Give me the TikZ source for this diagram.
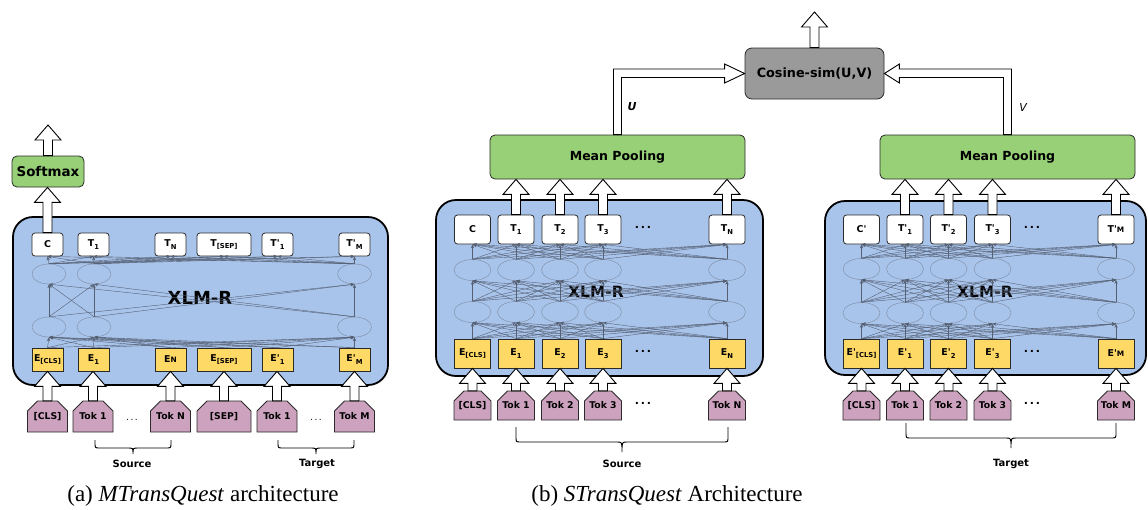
\documentclass[tikz,border=0pt]{standalone}
\usepackage{fontspec}
\setmainfont{DejaVu Sans}[Ligatures=TeXOff]
\newfontfamily\capfont{Liberation Serif}
\usetikzlibrary{shapes.geometric,arrows.meta,calc}

\definecolor{xblue}{HTML}{A9C4EB}
\definecolor{eyel}{HTML}{FFD966}
\definecolor{gfill}{HTML}{97D077}
\definecolor{tokc}{HTML}{CDA2BE}
\definecolor{cosg}{HTML}{9A9A9A}
\definecolor{bdr}{HTML}{2A2A2A}
\definecolor{ngray}{HTML}{556073}
\definecolor{ellc}{HTML}{7F8EA6}

\newcommand\bxf{\fontsize{9.4}{10}\selectfont\bfseries}
\newcommand\sbs[1]{\raisebox{-0.45ex}{\fontsize{6.8}{7}\selectfont #1}}
\newcommand\sml[1]{{\fontsize{7.4}{7.5}\selectfont #1}}

\tikzset{
  bigbox/.style={draw=black, line width=1.8pt, fill=xblue, rounded corners=20pt, inner sep=0pt},
  tbox/.style={draw=bdr, line width=0.8pt, fill=white, rounded corners=3pt, inner sep=0pt, font=\bxf},
  ebox/.style={draw=bdr, line width=0.8pt, fill=eyel, inner sep=0pt, font=\bxf},
  ell/.style={ellipse, draw=ellc, line width=0.45pt, inner sep=0pt},
  net/.style={draw=ngray, line width=0.4pt, -{Stealth[length=4pt,width=3.2pt]}},
  barrow/.style={draw=black, fill=white, line width=0.9pt, line join=miter},
  tokstyle/.style={draw=bdr, line width=0.8pt, fill=tokc},
  toktext/.style={inner sep=0pt, font=\fontsize{9.3}{10}\selectfont\bfseries},
  gbox/.style={draw=bdr, line width=0.8pt, fill=gfill, rounded corners=5pt, inner sep=0pt},
  xlab/.style={font=\bfseries},
  braceline/.style={draw=black, line width=0.9pt},
  brlab/.style={font=\fontsize{10}{12}\selectfont\bfseries},
  dots/.style={font=\fontsize{11}{12}\selectfont\bfseries},
  caption/.style={font=\capfont\fontsize{23}{26}\selectfont}
}

% token: name, x, width, ytop, ybot, text
\newcommand\tokn[6]{%
  \filldraw[tokstyle] (#2-#3/2,#5) -- (#2-#3/2,#4+10) -- (#2-#3/2+10,#4) -- (#2+#3/2-10,#4) -- (#2+#3/2,#4+10) -- (#2+#3/2,#5) -- cycle;
  \node[toktext, minimum width=#3pt, minimum height={(#5-#4)*1pt}] (#1) at (#2,{(#4+#5)/2}) {#6};}

% vertical block arrow from anchor #1 up to anchor #2 (x of #1, tip y of #2)
\newcommand\barr[2]{%
  \draw[barrow] let \p1=(#1), \p2=(#2) in
    (\x1-4.5pt,\y1) -- (\x1-4.5pt,\y2-15pt) -- (\x1-13pt,\y2-15pt) -- (\x1,\y2)
    -- (\x1+13pt,\y2-15pt) -- (\x1+4.5pt,\y2-15pt) -- (\x1+4.5pt,\y1) -- cycle;}

% brace: x1, x2, ytop, yh, ytip
\newcommand\brc[5]{%
  \draw[braceline] (#1,#3) -- (#1,#4-5) .. controls (#1,#4) .. (#1+5,#4)
   -- ({(#1+#2)/2-5},#4) .. controls ({(#1+#2)/2},#4) .. ({(#1+#2)/2},#5)
   .. controls ({(#1+#2)/2},#4) .. ({(#1+#2)/2+5},#4)
   -- (#2-5,#4) .. controls (#2,#4) .. (#2,#4-5) -- (#2,#3);}

\begin{document}
\begin{tikzpicture}[x=1pt,y=-1pt]
\useasboundingbox (0,0) rectangle (1148,509);

% ================= (a) MTransQuest =================
\node[bigbox, minimum width=375pt, minimum height=168pt] (xa) at (200.5,301) {};
\node[xlab, font=\fontsize{18}{20}\selectfont\bfseries] (xalab) at (200,298) {XLM-R};

\node[tbox, minimum width=31pt, minimum height=23pt] (at1) at (47.5,244.5) {C};
\node[tbox, minimum width=31pt, minimum height=23pt] (at2) at (93.5,244.5) {T\sbs{1}};
\node[tbox, minimum width=31pt, minimum height=23pt] (at3) at (170.5,244.5) {T\sbs{N}};
\node[tbox, minimum width=54pt, minimum height=23pt] (at4) at (224,244.5) {T\sbs{[SEP]}};
\node[tbox, minimum width=31pt, minimum height=23pt] (at5) at (277.5,244.5) {T'\sbs{1}};
\node[tbox, minimum width=31pt, minimum height=23pt] (at6) at (354.5,244.5) {T'\sbs{M}};

\node[ebox, minimum width=31pt, minimum height=23pt] (ae1) at (47.5,359.5) {E\sbs{[CLS]}};
\node[ebox, minimum width=31pt, minimum height=23pt] (ae2) at (93.5,359.5) {E\sbs{1}};
\node[ebox, minimum width=31pt, minimum height=23pt] (ae3) at (170.5,359.5) {E\sml{N}};
\node[ebox, minimum width=54pt, minimum height=23pt] (ae4) at (224,359.5) {E\sbs{[SEP]}};
\node[ebox, minimum width=31pt, minimum height=23pt] (ae5) at (277.5,359.5) {E'\sbs{1}};
\node[ebox, minimum width=31pt, minimum height=23pt] (ae6) at (354.5,359.5) {E'\sbs{M}};

\foreach \i/\x in {1/49,2/94,3/354.5}{
  \node[ell, minimum width=34pt, minimum height=20pt] (aa\i) at (\x,274) {};
  \node[ell, minimum width=34pt, minimum height=20pt] (ab\i) at (\x,327) {};
}
\foreach \i in {1,...,6}{\foreach \j in {1,2,3}{\draw[net] (ae\i.north) -- (ab\j.south);}}
\foreach \i in {1,2,3}{\foreach \j in {1,2,3}{\draw[net] (ab\i.north) -- (aa\j.south);}}
\foreach \i in {1,2,3}{\foreach \j in {1,...,6}{\draw[net] (aa\i.north) -- (at\j.south);}}

\node[gbox, minimum width=72pt, minimum height=31pt, font=\fontsize{13.4}{15}\selectfont\bfseries] (soft) at (48,171.5) {Softmax};
\coordinate (softout) at (48,125);
\barr{at1.north}{soft.south}
\barr{soft.north}{softout}

\tokn{ak1}{47.5}{40}{401}{432}{[CLS]}
\tokn{ak2}{93}{40}{401}{432}{Tok 1}
\tokn{ak3}{170.5}{40}{401}{432}{Tok N}
\tokn{ak4}{224}{54}{401}{432}{[SEP]}
\tokn{ak5}{277}{40}{401}{432}{Tok 1}
\tokn{ak6}{354.5}{40}{401}{432}{Tok M}
\foreach \i in {1,...,6}{\barr{ak\i.north}{ae\i.south}}
\node[dots, font=\fontsize{9}{10}\selectfont] (adot1) at (132,420) {.\,.\,.};
\node[dots, font=\fontsize{9}{10}\selectfont] (adot2) at (316,420) {.\,.\,.};

\brc{95}{171}{440}{448}{454}
\node[brlab] (asrc) at (132,464) {Source};
\brc{278}{354}{440}{448}{454}
\node[brlab] (atgt) at (317,464) {Target};

\node[caption] (capa) at (203,496) {(a) \textit{MTransQuest} architecture};

% ================= (b) STransQuest, source side =================
\node[bigbox, minimum width=327pt, minimum height=176pt] (xb) at (599.5,288) {};
\node[xlab, font=\fontsize{15.5}{17}\selectfont\bfseries] (xblab) at (596,292) {XLM-R};

\foreach \i/\x/\t/\e in {1/472.5/C/E\sbs{[CLS]}, 2/516/T\sbs{1}/E\sbs{1}, 3/560/T\sbs{2}/E\sbs{2}, 4/603/T\sbs{3}/E\sbs{3}, 5/727/T\sbs{N}/E\sbs{N}}{
  \node[tbox, minimum width=36pt, minimum height=29pt] (bt\i) at (\x,229.5) {\t};
  \node[ebox, minimum width=36pt, minimum height=29pt] (be\i) at (\x,353.5) {\e};
  \node[ell, minimum width=37pt, minimum height=21pt] (ba\i) at (\x,270) {};
  \node[ell, minimum width=37pt, minimum height=21pt] (bb\i) at (\x,312) {};
}
\foreach \i in {1,...,5}{\foreach \j in {1,...,5}{
  \draw[net] (be\i.north) -- (bb\j.south);
  \draw[net] (bb\i.north) -- (ba\j.south);
  \draw[net] (ba\i.north) -- (bt\j.south);}}
\node[dots] (bdot1) at (643,227) {.\,.\,.};
\node[dots] (bdot2) at (643,351) {.\,.\,.};
\node[dots] (bdot3) at (643,403) {.\,.\,.};

\node[gbox, minimum width=255pt, minimum height=44pt, font=\fontsize{12.5}{14}\selectfont\bfseries] (mpl) at (617.5,157) {Mean Pooling};
\foreach \i in {2,3,4,5}{\barr{bt\i.north}{mpl.south}}

\tokn{bk1}{472.5}{37}{391}{420}{[CLS]}
\tokn{bk2}{516}{37}{391}{420}{Tok 1}
\tokn{bk3}{560}{37}{391}{420}{Tok 2}
\tokn{bk4}{603}{37}{391}{420}{Tok 3}
\tokn{bk5}{727}{37}{391}{420}{Tok N}
\foreach \i in {1,...,5}{\barr{bk\i.north}{be\i.south}}

\brc{516}{728}{427}{442}{452}
\node[brlab] (bsrc) at (622,464) {Source};

% ================= (b) target side =================
\node[bigbox, minimum width=321pt, minimum height=174pt] (xc) at (985.5,288) {};
\node[xlab, font=\fontsize{15.5}{17}\selectfont\bfseries] (xclab) at (985,292) {XLM-R};

\foreach \i/\x/\t/\e in {1/861.5/C'/E'\sbs{[CLS]}, 2/905/T'\sbs{1}/E'\sbs{1}, 3/948.5/T'\sbs{2}/E'\sbs{2}, 4/992.5/T'\sbs{3}/E'\sbs{3}, 5/1116/T'\sml{M}/E'\sml{M}}{
  \node[tbox, minimum width=36pt, minimum height=29pt] (ct\i) at (\x,229.5) {\t};
  \node[ebox, minimum width=36pt, minimum height=29pt] (ce\i) at (\x,353.5) {\e};
  \node[ell, minimum width=37pt, minimum height=21pt] (ca\i) at (\x,269) {};
  \node[ell, minimum width=37pt, minimum height=21pt] (cb\i) at (\x,313) {};
}
\foreach \i in {1,...,5}{\foreach \j in {1,...,5}{
  \draw[net] (ce\i.north) -- (cb\j.south);
  \draw[net] (cb\i.north) -- (ca\j.south);
  \draw[net] (ca\i.north) -- (ct\j.south);}}
\node[dots] (cdot1) at (1032,227) {.\,.\,.};
\node[dots] (cdot2) at (1032,351) {.\,.\,.};
\node[dots] (cdot3) at (1032,403) {.\,.\,.};

\node[gbox, minimum width=255pt, minimum height=44pt, font=\fontsize{12.5}{14}\selectfont\bfseries] (mpr) at (1007.5,157) {Mean Pooling};
\foreach \i in {2,3,4,5}{\barr{ct\i.north}{mpr.south}}

\tokn{ck1}{861.5}{37}{391}{420}{[CLS]}
\tokn{ck2}{905}{37}{391}{420}{Tok 1}
\tokn{ck3}{948.5}{37}{391}{420}{Tok 2}
\tokn{ck4}{992.5}{37}{391}{420}{Tok 3}
\tokn{ck5}{1116}{37}{391}{420}{Tok M}
\foreach \i in {1,...,5}{\barr{ck\i.north}{ce\i.south}}

\brc{906}{1116}{423}{438}{448}
\node[brlab] (ctgt) at (1011,464) {Target};

% ================= cosine similarity =================
\node[draw=bdr, line width=0.8pt, fill=cosg, rounded corners=7pt, minimum width=139pt, minimum height=51pt, inner sep=0pt, font=\fontsize{12.8}{14}\selectfont\bfseries] (cos) at (814.5,73.5) {Cosine-sim(U,V)};
\coordinate (cosout) at (815,12);
\barr{cos.north}{cosout}

\draw[barrow] let \p1=(mpl.north), \p2=(cos.west) in
  (\x1-4pt,\y1) -- (\x1-4pt,\y2+4.5pt) -- (\x2-20pt,\y2+4.5pt) -- (\x2-20pt,\y2+9.5pt) -- (\x2,\y2)
  -- (\x2-20pt,\y2-9.5pt) -- (\x2-20pt,\y2-4pt) -- (\x1+4pt,\y2-4pt) -- (\x1+4pt,\y1) -- cycle;
\draw[barrow] let \p1=(mpr.north), \p2=(cos.east) in
  (\x1+4pt,\y1) -- (\x1+4pt,\y2+4.5pt) -- (\x2+15pt,\y2+4.5pt) -- (\x2+15pt,\y2+9.5pt) -- (\x2,\y2)
  -- (\x2+15pt,\y2-9.5pt) -- (\x2+15pt,\y2-4pt) -- (\x1-4pt,\y2-4pt) -- (\x1-4pt,\y1) -- cycle;
\node[font=\fontsize{11}{12}\selectfont\bfseries\itshape] (ulab) at (632,107) {U};
\node[font=\fontsize{11}{12}\selectfont\itshape] (vlab) at (1023,107) {V};

\node[caption] (capb) at (667,496) {(b) \textit{STransQuest} Architecture};
\end{tikzpicture}
\end{document}
